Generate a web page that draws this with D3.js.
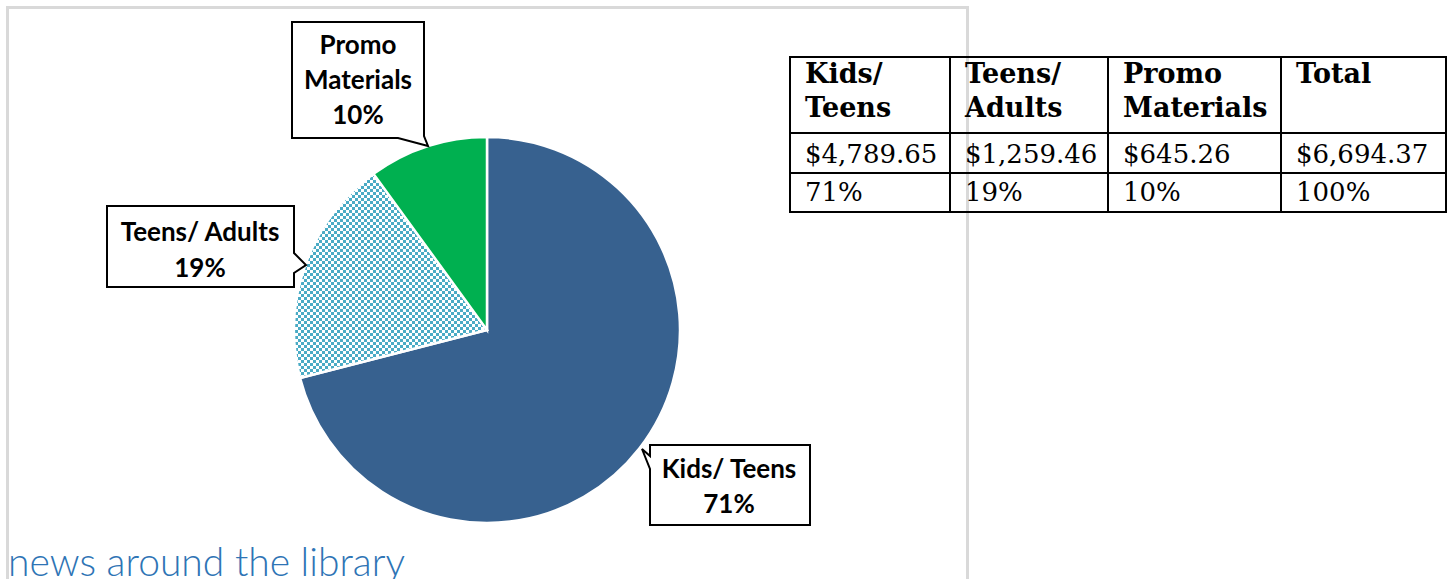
<!DOCTYPE html>
<html>
<head>
<meta charset="utf-8">
<script src="https://cdn.jsdelivr.net/npm/d3@7"></script>
<style>
    body { margin: 0; background: #fff; }
    svg { display: block; }
</style>
</head>
<body>
<svg id="chart" width="1452" height="579"></svg>
<script>
// data
var categories = ["Kids/ Teens", "Teens/ Adults", "Promo Materials"];
var amounts = [4789.65, 1259.46, 645.26];
var percents = [71, 19, 10];
var tableHeads = [["Kids/", "Teens"], ["Teens/", "Adults"], ["Promo", "Materials"], ["Total"]];
var sliceColors = ["#37618f", "url(#checker)", "#00b050"];

var svg = d3.select("#chart");

// checker pattern for the Teens/ Adults slice
var pat = svg.append("defs").append("pattern")
    .attr("id", "checker")
    .attr("width", 6).attr("height", 6)
    .attr("patternUnits", "userSpaceOnUse");
pat.append("rect").attr("width", 6).attr("height", 6).attr("fill", "#fff");
pat.append("rect").attr("width", 3).attr("height", 3).attr("fill", "#4aabc5");
pat.append("rect").attr("x", 3).attr("y", 3).attr("width", 3).attr("height", 3).attr("fill", "#4aabc5");

// chart frame
svg.append("path")
    .attr("d", "M7.5,590 V7.5 H967.5 V590")
    .attr("fill", "none")
    .attr("stroke", "#d9d9d9")
    .attr("stroke-width", 3);

// pie
var pie = d3.pie().sort(null).value(d => d);
var arc = d3.arc().innerRadius(0).outerRadius(193);

svg.append("g")
    .attr("transform", "translate(487,330)")
    .selectAll("path")
    .data(pie(percents))
    .enter()
    .append("path")
    .attr("d", arc)
    .attr("fill", (d, i) => sliceColors[i])
    .attr("stroke", "#fff")
    .attr("stroke-width", 2.5);

// callout boxes
var callouts = [
    {shape: "M650,445 H810 V525 H650 V469 L642,449 L650,456 Z", x: 729, y: [478, 513],
     lines: [categories[0], percents[0] + "%"]},
    {shape: "M107,206 H294 V253 L306,265 L294,273 V287 H107 Z", x: 200, y: [241, 277],
     lines: [categories[1], percents[1] + "%"]},
    {shape: "M292,22 H424 V136 L428,146 L398,138 H292 Z", x: 358, y: [54, 89, 124],
     lines: ["Promo", "Materials", percents[2] + "%"]}
];

var cg = svg.selectAll(".callout")
    .data(callouts)
    .enter()
    .append("g")
    .attr("class", "callout");

cg.append("path")
    .attr("d", d => d.shape)
    .attr("fill", "#fff")
    .attr("stroke", "#000")
    .attr("stroke-width", 2);

cg.each(function(d) {
    var g = d3.select(this);
    d.lines.forEach(function(t, i) {
        g.append("text")
            .attr("x", d.x)
            .attr("y", d.y[i])
            .attr("text-anchor", "middle")
            .style("font-family", "Lato, sans-serif")
            .style("font-weight", "bold")
            .style("font-size", "26px")
            .text(t);
    });
});

// table
var colX = [790, 950, 1108, 1281, 1446];
var rowY = [57, 133, 173, 212];
var total = d3.sum(amounts);
var money = d3.format("$,.2f");
var moneyRow = amounts.map(money).concat([money(total)]);
var pctRow = percents.map(p => p + "%").concat([d3.sum(percents) + "%"]);

var tg = svg.append("g").style("font-family", "'DejaVu Serif', serif");

tableHeads.forEach(function(h, i) {
    h.forEach(function(t, j) {
        tg.append("text")
            .attr("x", colX[i] + 15)
            .attr("y", 83 + j * 34)
            .style("font-weight", "bold")
            .style("font-size", "27px")
            .text(t);
    });
});

tg.selectAll(".money")
    .data(moneyRow)
    .enter()
    .append("text")
    .attr("x", (d, i) => colX[i] + 15)
    .attr("y", 163)
    .style("font-size", "26px")
    .text(d => d);

tg.selectAll(".pct")
    .data(pctRow)
    .enter()
    .append("text")
    .attr("x", (d, i) => colX[i] + 15)
    .attr("y", 201)
    .style("font-size", "26px")
    .text(d => d);

colX.forEach(function(x) {
    tg.append("line")
        .attr("x1", x).attr("x2", x)
        .attr("y1", rowY[0] - 1).attr("y2", rowY[3] + 1)
        .attr("stroke", "#000").attr("stroke-width", 2);
});
rowY.forEach(function(y) {
    tg.append("line")
        .attr("x1", colX[0]).attr("x2", colX[4])
        .attr("y1", y).attr("y2", y)
        .attr("stroke", "#000").attr("stroke-width", 2);
});

// page heading below the chart
svg.append("text")
    .attr("x", 8)
    .attr("y", 576)
    .attr("fill", "#2e74b5")
    .style("font-family", "Lato, sans-serif")
    .style("font-weight", 300)
    .style("font-size", "39px")
    .text("news around the library");
</script>
</body>
</html>
